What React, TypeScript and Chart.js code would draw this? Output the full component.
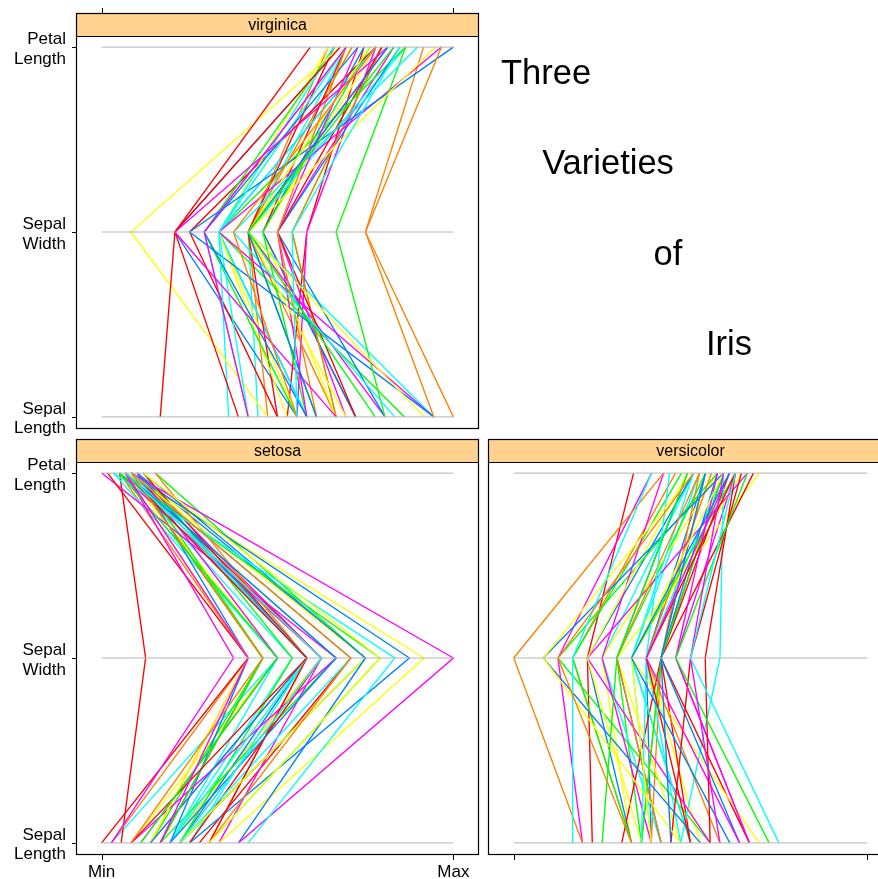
import React, { useEffect, useRef } from "react";
import { Chart, registerables } from "chart.js";

Chart.register(...registerables);

// Edgar Anderson's iris measurements (cm), rows 1-150 in the usual order:
// rows 1-50 setosa, 51-100 versicolor, 101-150 virginica.
const sepalLength = [
  5.1, 4.9, 4.7, 4.6, 5.0, 5.4, 4.6, 5.0, 4.4, 4.9, 5.4, 4.8, 4.8, 4.3, 5.8, 5.7, 5.4, 5.1, 5.7, 5.1,
  5.4, 5.1, 4.6, 5.1, 4.8, 5.0, 5.0, 5.2, 5.2, 4.7, 4.8, 5.4, 5.2, 5.5, 4.9, 5.0, 5.5, 4.9, 4.4, 5.1,
  5.0, 4.5, 4.4, 5.0, 5.1, 4.8, 5.1, 4.6, 5.3, 5.0,
  7.0, 6.4, 6.9, 5.5, 6.5, 5.7, 6.3, 4.9, 6.6, 5.2, 5.0, 5.9, 6.0, 6.1, 5.6, 6.7, 5.6, 5.8, 6.2, 5.6,
  5.9, 6.1, 6.3, 6.1, 6.4, 6.6, 6.8, 6.7, 6.0, 5.7, 5.5, 5.5, 5.8, 6.0, 5.4, 6.0, 6.7, 6.3, 5.6, 5.5,
  5.5, 6.1, 5.8, 5.0, 5.6, 5.7, 5.7, 6.2, 5.1, 5.7,
  6.3, 5.8, 7.1, 6.3, 6.5, 7.6, 4.9, 7.3, 6.7, 7.2, 6.5, 6.4, 6.8, 5.7, 5.8, 6.4, 6.5, 7.7, 7.7, 6.0,
  6.9, 5.6, 7.7, 6.3, 6.7, 7.2, 6.2, 6.1, 6.4, 7.2, 7.4, 7.9, 6.4, 6.3, 6.1, 7.7, 6.3, 6.4, 6.0, 6.9,
  6.7, 6.9, 5.8, 6.8, 6.7, 6.7, 6.3, 6.5, 6.2, 5.9,
];

const sepalWidth = [
  3.5, 3.0, 3.2, 3.1, 3.6, 3.9, 3.4, 3.4, 2.9, 3.1, 3.7, 3.4, 3.0, 3.0, 4.0, 4.4, 3.9, 3.5, 3.8, 3.8,
  3.4, 3.7, 3.6, 3.3, 3.4, 3.0, 3.4, 3.5, 3.4, 3.2, 3.1, 3.4, 4.1, 4.2, 3.1, 3.2, 3.5, 3.6, 3.0, 3.4,
  3.5, 2.3, 3.2, 3.5, 3.8, 3.0, 3.8, 3.2, 3.7, 3.3,
  3.2, 3.2, 3.1, 2.3, 2.8, 2.8, 3.3, 2.4, 2.9, 2.7, 2.0, 3.0, 2.2, 2.9, 2.9, 3.1, 3.0, 2.7, 2.2, 2.5,
  3.2, 2.8, 2.5, 2.8, 2.9, 3.0, 2.8, 3.0, 2.9, 2.6, 2.4, 2.4, 2.7, 2.7, 3.0, 3.4, 3.1, 2.3, 3.0, 2.5,
  2.6, 3.0, 2.6, 2.3, 2.7, 3.0, 2.9, 2.9, 2.5, 2.8,
  3.3, 2.7, 3.0, 2.9, 3.0, 3.0, 2.5, 2.9, 2.5, 3.6, 3.2, 2.7, 3.0, 2.5, 2.8, 3.2, 3.0, 3.8, 2.6, 2.2,
  3.2, 2.8, 2.8, 2.7, 3.3, 3.2, 2.8, 3.0, 2.8, 3.0, 2.8, 3.8, 2.8, 2.8, 2.6, 3.0, 3.4, 3.1, 3.0, 3.1,
  3.1, 3.1, 2.7, 3.2, 3.3, 3.0, 2.5, 3.0, 3.4, 3.0,
];

const petalLength = [
  1.4, 1.4, 1.3, 1.5, 1.4, 1.7, 1.4, 1.5, 1.4, 1.5, 1.5, 1.6, 1.4, 1.1, 1.2, 1.5, 1.3, 1.4, 1.7, 1.5,
  1.7, 1.5, 1.0, 1.7, 1.9, 1.6, 1.6, 1.5, 1.4, 1.6, 1.6, 1.5, 1.5, 1.4, 1.5, 1.2, 1.3, 1.4, 1.3, 1.5,
  1.3, 1.3, 1.3, 1.6, 1.9, 1.4, 1.6, 1.4, 1.5, 1.4,
  4.7, 4.5, 4.9, 4.0, 4.6, 4.5, 4.7, 3.3, 4.6, 3.9, 3.5, 4.2, 4.0, 4.7, 3.6, 4.4, 4.5, 4.1, 4.5, 3.9,
  4.8, 4.0, 4.9, 4.7, 4.3, 4.4, 4.8, 5.0, 4.5, 3.5, 3.8, 3.7, 3.9, 5.1, 4.5, 4.5, 4.7, 4.4, 4.1, 4.0,
  4.4, 4.6, 4.0, 3.3, 4.2, 4.2, 4.2, 4.3, 3.0, 4.1,
  6.0, 5.1, 5.9, 5.6, 5.8, 6.6, 4.5, 6.3, 5.8, 6.1, 5.1, 5.3, 5.5, 5.0, 5.1, 5.3, 5.5, 6.7, 6.9, 5.0,
  5.7, 4.9, 6.7, 4.9, 5.7, 6.0, 4.8, 4.9, 5.6, 5.8, 6.1, 6.4, 5.6, 5.1, 5.6, 6.1, 5.6, 5.5, 4.8, 5.4,
  5.6, 5.1, 5.1, 5.9, 5.7, 5.2, 5.0, 5.2, 5.4, 5.1,
];

const speciesNames = ["setosa", "versicolor", "virginica"];
const rowsPerSpecies = 50;

// Axis labels, bottom to top: Sepal Length, Sepal Width, Petal Length
const variableLabels = [
  ["Sepal", "Length"],
  ["Sepal", "Width"],
  ["Petal", "Length"],
];
const scaleTickLabels = ["Min", "Max"];
const titleWords = ["Three", "Varieties", "of", "Iris"];

// Line colours, recycled over the rows of each panel
const lineColors = ["#00FFFF", "#FF00FF", "#00FF00", "#FF8000", "#0080FF", "#FFFF00", "#FF0000"];

const STRIP_FILL = "#FFD28F";
const REF_LINE = "#B4B4B4";
const FONT = '"Liberation Sans", Arial, Helvetica, sans-serif';
const CANVAS_W = 900;
const CANVAS_H = 879;

type PanelSpec = {
  species: string;
  left: number;
  right: number;
  top: number;
  bottom: number;
  stripTop: number;
  leftAxis: boolean;
  topTicks: boolean;
  bottomTicks: boolean;
  bottomLabels: boolean;
  title: boolean;
};

const panelSpecs: PanelSpec[] = [
  { species: "virginica", left: 77, right: 478, top: 36, bottom: 428, stripTop: 13, leftAxis: true, topTicks: true, bottomTicks: false, bottomLabels: false, title: true },
  { species: "setosa", left: 77, right: 478, top: 462, bottom: 854, stripTop: 439, leftAxis: true, topTicks: false, bottomTicks: true, bottomLabels: true, title: false },
  { species: "versicolor", left: 489, right: 892, top: 462, bottom: 854, stripTop: 439, leftAxis: false, topTicks: false, bottomTicks: true, bottomLabels: false, title: false },
];

const variables = [sepalLength, sepalWidth, petalLength];
const ranges = variables.map((v) => [Math.min(...v), Math.max(...v)]);
const scaled = (k: number, v: number) => (v - ranges[k][0]) / (ranges[k][1] - ranges[k][0]);

function buildDatasets(species: string) {
  const refLines = variableLabels.map((_, k) => ({
    data: [
      { x: 0, y: k },
      { x: 1, y: k },
    ],
    borderColor: REF_LINE,
    borderWidth: 1,
    showLine: true,
    pointRadius: 0,
    fill: false,
  }));
  const rows: number[] = [];
  for (let r = 0; r < sepalLength.length; r++) {
    if (speciesNames[Math.floor(r / rowsPerSpecies)] === species) rows.push(r);
  }
  const obs = rows.map((r, i) => ({
    data: variables.map((v, k) => ({ x: scaled(k, v[r]), y: k })),
    borderColor: lineColors[i % lineColors.length],
    borderWidth: 1.35,
    showLine: true,
    pointRadius: 0,
    fill: false,
  }));
  return [...refLines, ...obs];
}

const panelDecor = {
  id: "panelDecor",
  afterDraw(chart: any, _args: any, opts: any) {
    const spec: PanelSpec = opts.spec;
    const { ctx, chartArea: a } = chart;
    const xs = chart.scales.x;
    const ys = chart.scales.y;
    ctx.save();

    // strip with the species name
    ctx.fillStyle = STRIP_FILL;
    ctx.fillRect(a.left, spec.stripTop, a.right - a.left, a.top - spec.stripTop);
    ctx.strokeStyle = "#000";
    ctx.lineWidth = 1.2;
    ctx.beginPath();
    ctx.moveTo(a.left - 0.5, a.top + 0.5);
    ctx.lineTo(a.right + 0.5, a.top + 0.5);
    ctx.stroke();
    ctx.strokeRect(a.left - 0.5, spec.stripTop + 0.5, a.right - a.left + 1, a.bottom - spec.stripTop);

    ctx.fillStyle = "#000";
    ctx.font = `16px ${FONT}`;
    ctx.textAlign = "center";
    ctx.textBaseline = "middle";
    ctx.fillText(spec.species, (a.left + a.right) / 2, (spec.stripTop + a.top) / 2 + 1);

    // tick marks
    ctx.lineWidth = 1;
    ctx.beginPath();
    if (spec.topTicks) {
      [0, 1].forEach((v) => {
        const px = Math.round(xs.getPixelForValue(v)) + 0.5;
        ctx.moveTo(px, spec.stripTop - 5);
        ctx.lineTo(px, spec.stripTop);
      });
    }
    if (spec.bottomTicks) {
      [0, 1].forEach((v) => {
        const px = Math.round(xs.getPixelForValue(v)) + 0.5;
        ctx.moveTo(px, a.bottom + 1);
        ctx.lineTo(px, a.bottom + 6);
      });
    }
    if (spec.leftAxis) {
      variableLabels.forEach((_, k) => {
        const py = Math.round(ys.getPixelForValue(k)) + 0.5;
        ctx.moveTo(a.left - 5, py);
        ctx.lineTo(a.left - 1, py);
      });
    }
    ctx.stroke();

    ctx.font = `17px ${FONT}`;
    ctx.textBaseline = "alphabetic";
    if (spec.leftAxis) {
      ctx.textAlign = "right";
      variableLabels.forEach((lines, k) => {
        const py = ys.getPixelForValue(k);
        ctx.fillText(lines[0], a.left - 11, py - 3);
        ctx.fillText(lines[1], a.left - 11, py + 16.5);
      });
    }
    if (spec.bottomLabels) {
      ctx.textAlign = "center";
      [0, 1].forEach((v) => {
        ctx.fillText(scaleTickLabels[v], xs.getPixelForValue(v), a.bottom + 23);
      });
    }

    if (spec.title) {
      ctx.font = `34.5px ${FONT}`;
      ctx.textAlign = "center";
      const cx = [546, 608, 668, 729];
      const by = [83.5, 174, 264.5, 355];
      titleWords.forEach((w, i) => ctx.fillText(w, cx[i], by[i]));
    }
    ctx.restore();
  },
};

function Panel({ spec }: { spec: PanelSpec }) {
  const ref = useRef<HTMLCanvasElement>(null);
  useEffect(() => {
    const canvas = ref.current;
    if (!canvas) return;
    const chart = new Chart(canvas, {
      type: "scatter",
      data: { datasets: buildDatasets(spec.species) as any },
      options: {
        animation: false,
        responsive: false,
        devicePixelRatio: 1,
        events: [],
        layout: {
          padding: {
            left: spec.left,
            top: spec.top,
            right: CANVAS_W - spec.right,
            bottom: CANVAS_H - spec.bottom,
          },
        },
        scales: {
          x: { type: "linear", min: -0.07, max: 1.07, display: false },
          y: { type: "linear", min: -0.06, max: 2.06, display: false },
        },
        elements: { line: { tension: 0 } },
        plugins: {
          legend: { display: false },
          tooltip: { enabled: false },
          panelDecor: { spec },
        } as any,
      },
      plugins: [panelDecor as any],
    });
    return () => chart.destroy();
  }, [spec]);
  return (
    <canvas
      ref={ref}
      width={CANVAS_W}
      height={CANVAS_H}
      style={{ position: "absolute", left: 0, top: 0, width: CANVAS_W, height: CANVAS_H }}
    />
  );
}

export default function App() {
  return (
    <div
      style={{
        position: "fixed",
        left: 0,
        top: 0,
        width: 878,
        height: 879,
        overflow: "hidden",
        background: "#FFFFFF",
      }}
    >
      {panelSpecs.map((spec) => (
        <Panel key={spec.species} spec={spec} />
      ))}
    </div>
  );
}
